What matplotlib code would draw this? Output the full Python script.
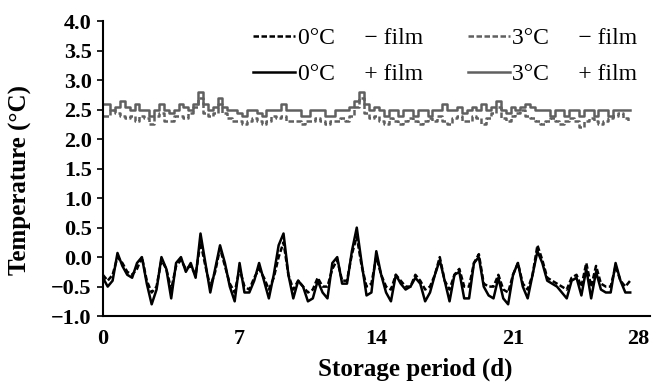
import numpy as np
import matplotlib
matplotlib.use("Agg")
import matplotlib.pyplot as plt

# ── data (0.25-day spacing) ─────────────────────────────────────────────────
days = np.arange(0, 27.01, 0.25)

t0_minus = [-0.30, -0.40, -0.30, 0.00, -0.10, -0.25, -0.30, -0.20, 0.00, -0.40,
            -0.60, -0.50, -0.05, -0.20, -0.55, -0.15, -0.05, -0.20, -0.15, -0.30,
            0.25, -0.15, -0.50, -0.25, 0.15, -0.15, -0.45, -0.60, -0.20, -0.50,
            -0.55, -0.35, -0.20, -0.35, -0.55, -0.35, 0.00, 0.25, -0.30, -0.55,
            -0.40, -0.50, -0.60, -0.55, -0.35, -0.50, -0.50, -0.20, -0.05, -0.40,
            -0.40, 0.05, 0.35, -0.15, -0.50, -0.45, 0.00, -0.30, -0.50, -0.55,
            -0.30, -0.40, -0.50, -0.50, -0.30, -0.40, -0.55, -0.50, -0.30, 0.00,
            -0.40, -0.55, -0.30, -0.20, -0.50, -0.50, -0.10, 0.05, -0.45, -0.50,
            -0.50, -0.30, -0.55, -0.60, -0.30, -0.10, -0.45, -0.55, -0.30, 0.20,
            -0.05, -0.35, -0.40, -0.45, -0.50, -0.55, -0.35, -0.30, -0.50, -0.10,
            -0.50, -0.15, -0.45, -0.50, -0.50, -0.15, -0.40, -0.50, -0.40]

t0_plus = [-0.35, -0.50, -0.40, 0.07, -0.15, -0.30, -0.35, -0.10, 0.00, -0.45,
           -0.80, -0.55, 0.00, -0.20, -0.70, -0.10, 0.00, -0.25, -0.10, -0.35,
           0.40, -0.10, -0.60, -0.20, 0.20, -0.10, -0.50, -0.75, -0.10, -0.60,
           -0.60, -0.40, -0.10, -0.40, -0.70, -0.30, 0.20, 0.40, -0.30, -0.70,
           -0.40, -0.50, -0.75, -0.70, -0.40, -0.60, -0.70, -0.10, 0.00, -0.45,
           -0.45, 0.10, 0.50, -0.10, -0.65, -0.60, 0.10, -0.30, -0.60, -0.75,
           -0.30, -0.45, -0.55, -0.50, -0.35, -0.45, -0.75, -0.60, -0.30, -0.05,
           -0.40, -0.75, -0.30, -0.25, -0.70, -0.70, -0.10, 0.00, -0.50, -0.65,
           -0.70, -0.35, -0.70, -0.80, -0.30, -0.10, -0.50, -0.70, -0.30, 0.10,
           -0.10, -0.40, -0.45, -0.50, -0.60, -0.70, -0.40, -0.35, -0.65, -0.20,
           -0.70, -0.25, -0.55, -0.60, -0.60, -0.10, -0.40, -0.60, -0.60]

t3_minus = [2.40, 2.40, 2.50, 2.45, 2.40, 2.35, 2.40, 2.30, 2.40, 2.35,
            2.25, 2.40, 2.45, 2.30, 2.30, 2.40, 2.40, 2.35, 2.45, 2.55,
            2.70, 2.45, 2.40, 2.45, 2.60, 2.45, 2.35, 2.30, 2.30, 2.25,
            2.30, 2.35, 2.30, 2.25, 2.30, 2.40, 2.35, 2.40, 2.30, 2.30,
            2.30, 2.25, 2.30, 2.30, 2.35, 2.30, 2.25, 2.30, 2.30, 2.35,
            2.30, 2.40, 2.55, 2.70, 2.45, 2.35, 2.40, 2.30, 2.25, 2.35,
            2.30, 2.25, 2.30, 2.35, 2.30, 2.25, 2.30, 2.35, 2.30, 2.40,
            2.30, 2.25, 2.35, 2.40, 2.30, 2.30, 2.40, 2.35, 2.25, 2.35,
            2.45, 2.55, 2.35, 2.30, 2.40, 2.45, 2.50, 2.40, 2.35, 2.30,
            2.25, 2.30, 2.35, 2.30, 2.25, 2.30, 2.35, 2.30, 2.20, 2.30,
            2.35, 2.30, 2.25, 2.30, 2.35, 2.40, 2.45, 2.35, 2.30]

t3_plus = [2.60, 2.60, 2.50, 2.55, 2.65, 2.55, 2.50, 2.60, 2.50, 2.50,
           2.40, 2.50, 2.60, 2.50, 2.45, 2.50, 2.60, 2.55, 2.50, 2.60,
           2.80, 2.60, 2.50, 2.55, 2.70, 2.55, 2.50, 2.50, 2.45, 2.40,
           2.50, 2.50, 2.45, 2.40, 2.50, 2.50, 2.50, 2.60, 2.50, 2.50,
           2.50, 2.40, 2.40, 2.50, 2.50, 2.50, 2.40, 2.40, 2.50, 2.50,
           2.50, 2.55, 2.65, 2.80, 2.60, 2.50, 2.55, 2.50, 2.40, 2.50,
           2.50, 2.40, 2.50, 2.50, 2.40, 2.50, 2.50, 2.40, 2.50, 2.50,
           2.60, 2.50, 2.50, 2.55, 2.45, 2.50, 2.55, 2.50, 2.60, 2.50,
           2.55, 2.65, 2.50, 2.45, 2.55, 2.50, 2.55, 2.60, 2.55, 2.50,
           2.50, 2.50, 2.40, 2.50, 2.50, 2.40, 2.50, 2.50, 2.40, 2.50,
           2.50, 2.40, 2.50, 2.50, 2.40, 2.50, 2.50, 2.50, 2.50]

x_ticks = [0, 7, 14, 21, 28]
y_ticks = np.arange(-1.0, 4.01, 0.5)

labels = ["0\u00b0C\u2003 \u2212 film", "0\u00b0C\u2003 + film",
          "3\u00b0C\u2003 \u2212 film", "3\u00b0C\u2003 + film"]

# ── plot ────────────────────────────────────────────────────────────────────
plt.rcParams["font.family"] = ["Liberation Serif", "DejaVu Serif"]

BLACK = "#000000"
GREY = "#606060"
DASH = (0, (2.2, 1.0))

fig = plt.figure(figsize=(6.55, 3.85), dpi=100)
ax = fig.add_axes([0.157, 0.179, 0.835, 0.766])

l1, = ax.plot(days, t0_minus, color=BLACK, lw=1.8, ls=DASH)
l2, = ax.plot(days, t0_plus, color=BLACK, lw=1.8)
l3, = ax.plot(days, t3_minus, color=GREY, lw=1.8, ls=DASH, drawstyle="steps-mid")
l4, = ax.plot(days, t3_plus, color=GREY, lw=1.8, drawstyle="steps-mid")

ax.set_xlim(0, 28)
ax.set_ylim(-1.0, 4.0)
ax.set_xticks(x_ticks)
ax.set_yticks(y_ticks)
ax.set_yticklabels([f"{v:.1f}".replace("-", "\u2212") for v in y_ticks])

for s in ("top", "right"):
    ax.spines[s].set_visible(False)
for s in ("left", "bottom"):
    ax.spines[s].set_linewidth(1.5)

ax.tick_params(axis="x", length=0, pad=9, labelsize=16)
ax.tick_params(axis="y", length=4, width=1.2, pad=4, labelsize=16)
for lab in ax.get_xticklabels() + ax.get_yticklabels():
    lab.set_fontweight("bold")
# last x label sits flush with the axis end
ax.get_xticklabels()[-1].set_horizontalalignment("right")

ax.set_xlabel("Storage period (d)", fontsize=18, fontweight="bold")
ax.set_ylabel("Temperature (\u00b0C)", fontsize=18, fontweight="bold")
ax.xaxis.set_label_coords(0.572, -0.14)
ax.yaxis.set_label_coords(-0.13, 0.46)

ax.legend([l1, l2, l3, l4], labels, ncol=2, loc="upper right",
          bbox_to_anchor=(0.995, 1.01), frameon=False, fontsize=17,
          handlelength=1.8, handletextpad=0.1, columnspacing=1.9,
          labelspacing=0.6, borderaxespad=0.0)

fig.savefig("out.png", dpi=100)
